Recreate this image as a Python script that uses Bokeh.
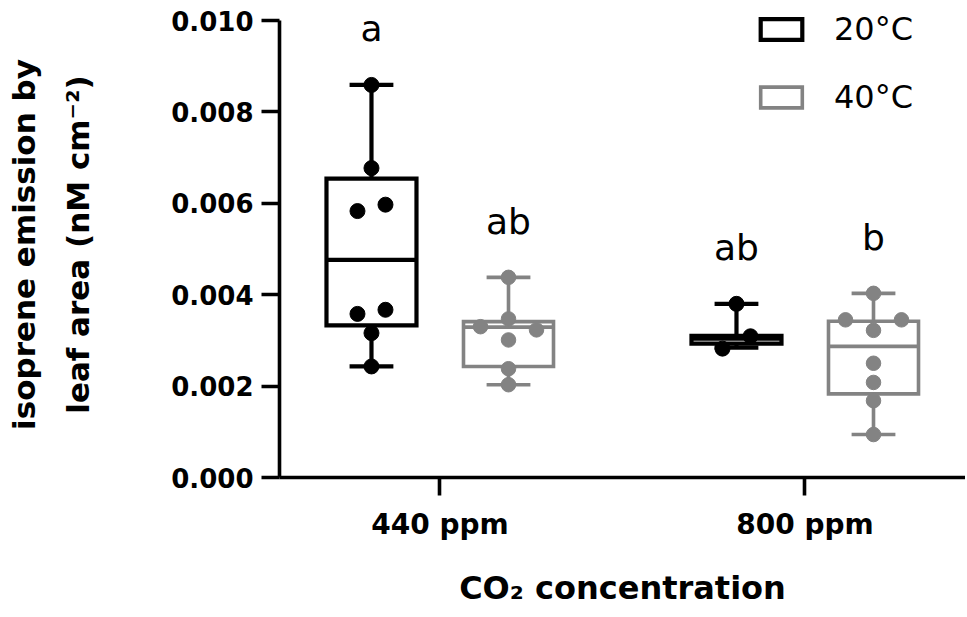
import numpy as np
from bokeh.plotting import figure
from bokeh.models import (ColumnDataSource, Range1d, FixedTicker, PrintfTickFormatter,
                          Legend, LegendItem)
from bokeh.embed import file_html
from bokeh.resources import INLINE
from bokeh.core.properties import value

# ---------------- data ----------------
categories = ["440 ppm", "800 ppm"]
temperatures = ["20°C", "40°C"]
y_ticks = [0.000, 0.002, 0.004, 0.006, 0.008, 0.010]

# individual measurements (listed in original order)
pts_20_440 = [0.00859, 0.00677, 0.00583, 0.00597, 0.00358, 0.00367, 0.00316, 0.00243]
pts_40_440 = [0.00438, 0.00330, 0.00347, 0.00323, 0.00301, 0.00238, 0.00203]
pts_20_800 = [0.00380, 0.00282, 0.00309]
pts_40_800 = [0.00403, 0.00345, 0.00322, 0.00345, 0.00250, 0.00208, 0.00168, 0.00094]

# box statistics per temperature, per CO2 category
min_20 = [0.00243, 0.00284]
q1_20 = [0.00333, 0.00293]
med_20 = [0.00476, 0.00304]
q3_20 = [0.00654, 0.00310]
max_20 = [0.00859, 0.00380]

min_40 = [0.00203, 0.00094]
q1_40 = [0.00243, 0.00183]
med_40 = [0.00329, 0.00287]
q3_40 = [0.00341, 0.00342]
max_40 = [0.00438, 0.00403]

letters_20 = ["a", "ab"]
letters_40 = ["ab", "b"]

# ---------------- styling / layout ----------------
FONT = "DejaVu Sans"
colors = {"20°C": "#000000", "40°C": "#838383"}
box_offset = 0.1877
box_half = 0.1233
cap_half = 0.060
row_gap = 0.0767
row_thr = 0.00028

W, H = 965, 615
PX_PER_Y = 45700.0          # screen px per data unit on y
TOP = 11                    # frame top (a little above the 0.010 tick)
p = figure(width=W, height=H, output_backend="svg", toolbar_location=None,
           x_range=Range1d(0.5603, 0.5603 + (W - 279) / 365.0),
           y_range=Range1d(0.0, 0.010 + (20 - TOP) / PX_PER_Y),
           min_border_left=279, min_border_right=0, min_border_top=TOP,
           min_border_bottom=H - 477)
p.outline_line_color = None
p.xgrid.visible = False
p.ygrid.visible = False
p.background_fill_color = "white"
p.border_fill_color = "white"


def swarm_x(center, vals):
    order = sorted(range(len(vals)), key=lambda i: -vals[i])
    rows = []
    for i in order:
        if rows and vals[rows[-1][0]] - vals[i] <= row_thr:
            rows[-1].append(i)
        else:
            rows.append([i])
    xs = [0.0] * len(vals)
    for r in rows:
        r = sorted(r)
        n = len(r)
        for k, i in enumerate(r):
            xs[i] = center + (k - (n - 1) / 2) * row_gap
    return xs


series = {
    "20°C": dict(pts=[pts_20_440, pts_20_800], mn=min_20, q1=q1_20, med=med_20,
                 q3=q3_20, mx=max_20, let=letters_20, off=-box_offset, lw=4.2, size=15),
    "40°C": dict(pts=[pts_40_440, pts_40_800], mn=min_40, q1=q1_40, med=med_40,
                 q3=q3_40, mx=max_40, let=letters_40, off=box_offset, lw=3.6, size=14.5),
}

legend_items = []
for t in temperatures:
    s = series[t]
    c = colors[t]
    xc = [i + 1 + s["off"] for i in range(len(categories))]
    src = ColumnDataSource(dict(
        x=xc,
        left=[x - box_half for x in xc], right=[x + box_half for x in xc],
        cl=[x - cap_half for x in xc], cr=[x + cap_half for x in xc],
        mn=s["mn"], q1=s["q1"], med=s["med"], q3=s["q3"], mx=s["mx"], let=s["let"]))
    # whiskers
    p.segment(x0="x", y0="q3", x1="x", y1="mx", source=src, line_color=c, line_width=s["lw"])
    p.segment(x0="x", y0="q1", x1="x", y1="mn", source=src, line_color=c, line_width=s["lw"])
    # caps
    p.segment(x0="cl", y0="mx", x1="cr", y1="mx", source=src, line_color=c, line_width=s["lw"])
    p.segment(x0="cl", y0="mn", x1="cr", y1="mn", source=src, line_color=c, line_width=s["lw"])
    # boxes
    r = p.quad(left="left", right="right", bottom="q1", top="q3", source=src,
               fill_color="white", line_color=c, line_width=s["lw"], line_join="miter")
    p.segment(x0="left", y0="med", x1="right", y1="med", source=src, line_color=c,
              line_width=s["lw"])
    legend_items.append(LegendItem(label=t, renderers=[r]))
    # significance letters
    p.text(x="x", y="mx", text="let", source=src, text_font=value(FONT),
           text_font_size="36px", text_align="center", text_baseline="alphabetic",
           y_offset=-56, text_color="black")

for t in temperatures:
    s = series[t]
    c = colors[t]
    px, py = [], []
    for i, vals in enumerate(s["pts"]):
        px += swarm_x(i + 1 + s["off"], vals)
        py += vals
    p.scatter(px, py, size=s["size"], marker="circle", fill_color=c, line_color=c)

# axes
for ax in (p.xaxis[0], p.yaxis[0]):
    ax.axis_line_width = 3.6
    ax.axis_line_color = "black"
    ax.major_tick_line_width = 3.6
    ax.major_tick_line_color = "black"
    ax.major_tick_in = 0
    ax.major_tick_out = 18
    ax.minor_tick_line_color = None
    ax.major_label_text_font = FONT
    ax.major_label_text_font_style = "bold"
    ax.major_label_text_color = "black"
    ax.axis_label_text_font = FONT
    ax.axis_label_text_font_style = "bold"
    ax.axis_label_text_color = "black"

p.yaxis.ticker = FixedTicker(ticks=y_ticks)
p.yaxis.bounds = (y_ticks[0], y_ticks[-1])
p.yaxis.formatter = PrintfTickFormatter(format="%.3f")
p.yaxis.major_label_text_font_size = "26px"
p.yaxis.major_label_standoff = 8
p.yaxis.axis_label = "isoprene emission by\nleaf area (nM cm⁻²)"
p.yaxis.axis_label_text_font_size = "31px"
p.yaxis.axis_label_text_line_height = 1.5
p.yaxis.axis_label_standoff = 72

p.xaxis.ticker = FixedTicker(ticks=[i + 1 for i in range(len(categories))])
p.xaxis.major_label_overrides = {i + 1: c for i, c in enumerate(categories)}
p.xaxis.major_label_text_font_size = "28px"
p.xaxis.major_label_standoff = 12
p.xaxis.axis_label = "CO₂ concentration"
p.xaxis.axis_label_text_font_size = "32px"
p.xaxis.axis_label_standoff = 25

legend = Legend(items=legend_items, location=(476, 361), orientation="vertical",
                glyph_width=52, glyph_height=26, label_standoff=27, spacing=30,
                padding=0, margin=0, border_line_color=None, background_fill_alpha=0,
                label_text_font=FONT, label_text_font_size="32px",
                label_text_color="black", label_text_baseline="middle")
p.add_layout(legend, "center")

open("out.html", "w").write(file_html(p, INLINE))
